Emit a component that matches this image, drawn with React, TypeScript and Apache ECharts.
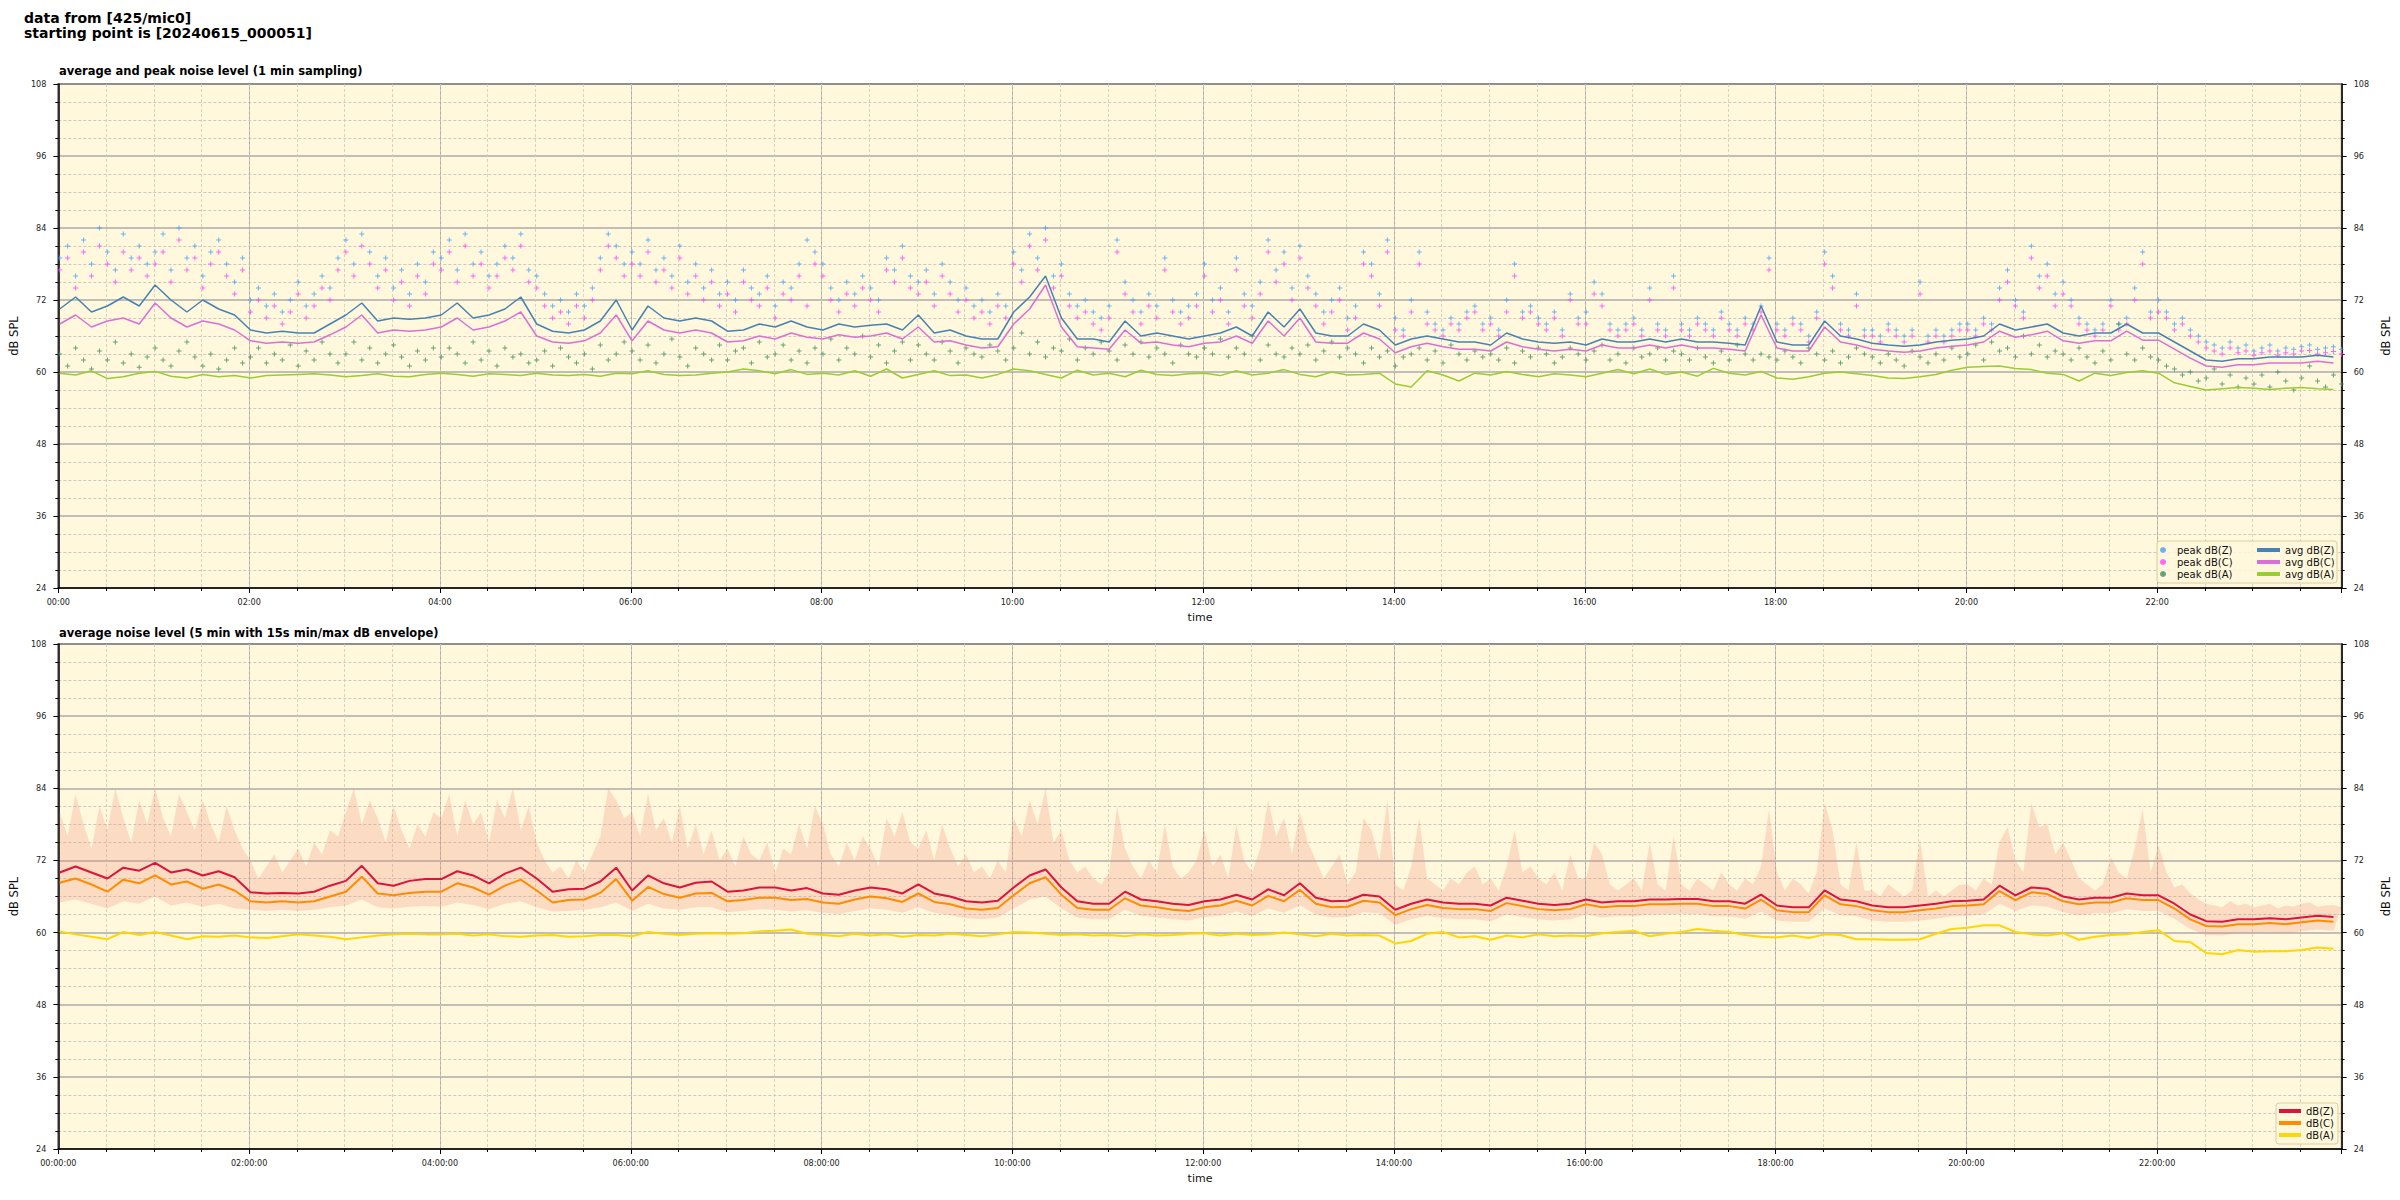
import React, { useEffect, useRef } from 'react';
import * as echarts from 'echarts';

// ---------- time base (minutes after 00:00; recording starts 00:00:51) ----------
const START_MIN = 0.85;
const AVG_STEP = 10; // avg / envelope-min samples every 10 min
const PEAK_STEP = 5; // peak / envelope-max samples every 5 min
const X_MAX = 1436;
const X_LABELS_TOP = ['00:00', '02:00', '04:00', '06:00', '08:00', '10:00', '12:00', '14:00', '16:00', '18:00', '20:00', '22:00'];
const X_LABELS_BOTTOM = ['00:00:00', '02:00:00', '04:00:00', '06:00:00', '08:00:00', '10:00:00', '12:00:00', '14:00:00', '16:00:00', '18:00:00', '20:00:00', '22:00:00'];

// ---------- top chart: peaks (5 min) ----------
const PEAK_Z = [
  79, 81, 76, 82, 78, 84, 80, 77, 83, 79, 81, 78,
  80, 83, 77, 84, 79, 81, 76, 80, 82, 78, 75, 79,
  72, 74, 71, 73, 70, 72, 75, 71, 73, 76, 74, 79,
  82, 78, 83, 80, 76, 79, 74, 77, 73, 78, 75, 80,
  79, 82, 77, 83, 78, 80, 76, 78, 81, 79, 83, 77,
  76, 73, 71, 72, 70, 73, 71, 74, 79, 83, 81, 78,
  80, 78, 82, 77, 79, 76, 81, 75, 78, 74, 77, 73,
  75, 72, 77, 74, 73, 76, 71, 75, 74, 78, 82, 80,
  78, 74, 72, 75, 73, 76, 74, 72, 79, 77, 81, 76,
  75, 77, 73, 78, 75, 72, 74, 71, 72, 70, 73, 71,
  80, 77, 83, 79, 84, 76, 78, 73, 71, 72, 70, 69,
  71, 82, 75, 72, 70, 73, 71, 79, 72, 70, 71, 73,
  78, 72, 74, 70, 79, 73, 71, 75, 82, 77, 80, 74,
  81, 76, 73, 70, 72, 74, 69, 71, 80, 78, 73, 82,
  69, 67, 72, 80, 70, 68, 67, 69, 68, 70, 71, 68,
  69, 67, 72, 78, 70, 71, 69, 68, 70, 67, 73, 69,
  70, 75, 73, 68, 67, 68, 69, 67, 74, 68, 67, 76,
  68, 67, 69, 68, 67, 70, 68, 67, 69, 68, 71, 79,
  68, 67, 69, 68, 66, 70, 80, 76, 68, 67, 73, 67,
  67, 66, 68, 67, 66, 67, 75, 66, 67, 66, 67, 68,
  68, 67, 69, 68, 74, 77, 72, 70, 81, 76, 78, 73,
  75, 72, 69, 68, 67, 68, 72, 68, 69, 74, 80, 70,
  72, 70, 68, 69, 67, 66, 65, 64.5, 64, 65, 64, 64.5,
  63.5, 64, 64.5, 63.5, 64, 63.8, 64.2, 64.5, 63.8, 64, 64.2, 63.8,
];
const PEAK_C = [
  77, 79, 74, 80, 76, 81, 78, 75, 80, 77, 79, 76,
  78, 80, 75, 82, 77, 79, 74, 78, 80, 76, 73, 77,
  70, 72, 69, 71, 68, 70, 73, 69, 71, 74, 72, 77,
  80, 76, 81, 78, 74, 77, 72, 75, 71, 76, 73, 78,
  77, 80, 75, 81, 76, 78, 74, 76, 79, 77, 81, 75,
  74, 71, 69, 70, 68, 71, 69, 72, 77, 81, 79, 76,
  78, 76, 80, 75, 77, 74, 79, 73, 76, 72, 75, 71,
  73, 70, 75, 72, 71, 74, 69, 73, 72, 76, 71, 78,
  76, 72, 70, 73, 71, 74, 72, 70, 77, 75, 79, 74,
  73, 75, 71, 76, 73, 70, 72, 69, 70, 68, 71, 69,
  78, 75, 81, 77, 82, 74, 76, 71, 69, 70, 68, 67,
  69, 80, 73, 70, 68, 71, 69, 77, 70, 68, 69, 71,
  76, 70, 72, 68, 77, 71, 69, 73, 80, 75, 78, 72,
  79, 74, 71, 68, 70, 72, 67, 69, 78, 76, 71, 80,
  67, 66, 70, 78, 68, 67, 66, 68, 67, 69, 70, 67,
  68, 66, 70, 76, 69, 70, 68, 67, 69, 66, 72, 68,
  68, 73, 71, 67, 66, 67, 68, 66, 72, 67, 66, 74,
  67, 66, 68, 67, 66, 69, 67, 66, 68, 67, 70, 77,
  67, 66, 68, 67, 65, 69, 78, 74, 67, 66, 71, 66,
  66, 65, 67, 66, 65, 66, 73, 65, 66, 65, 66, 67,
  67, 66, 68, 67, 72, 75, 71, 69, 79, 74, 76, 71,
  73, 71, 68, 67, 66, 67, 71, 67, 68, 72, 78, 69,
  70, 69, 67, 68, 66, 65, 64, 63.5, 63, 64, 63.2, 63.5,
  62.8, 63.2, 63.5, 62.8, 63.2, 63, 63.5, 63.6, 63, 63.2, 63.4, 63,
];
const PEAK_A = [
  63, 61, 64, 62, 60.5, 63.5, 62, 65, 61.5, 63, 60.8, 62.5,
  64, 62, 61, 63.5, 65, 62.5, 61, 63, 60.5, 62, 64, 61.5,
  62.5, 64, 61.5, 63, 62, 64.5, 61, 63.5, 62, 65, 63, 61.5,
  63, 65, 62, 64, 61.5, 63, 64.5, 62.5, 61, 63.5, 62, 64,
  62.5, 64, 63, 61.5, 65, 62, 63.5, 61, 64, 62.5, 63, 61.5,
  62, 63.5, 61, 64, 62.5, 61.5, 63, 60.5, 64.5, 62, 63, 65,
  63.5, 62, 64.5, 61.5, 63, 65.5, 62.5, 61, 64, 63, 62, 64.5,
  62, 63.5, 64, 61.5, 65, 62.5, 63, 64.5, 62, 63.5, 61.5, 64,
  63, 65.5, 62, 64, 63, 66, 62.5, 64.5, 61.5, 63.5, 65, 62,
  64.5, 63, 62, 65, 63.5, 61.5, 64, 63, 62.5, 64.5, 63.5, 62,
  64, 66.5, 63, 65, 62.5, 64, 63.5, 65.5, 62, 64, 63, 65,
  63.5, 62, 64.5, 63, 65, 62.5, 64, 63, 61.5, 64.5, 63, 62.5,
  64, 63, 65.5, 62.5, 64, 63, 66, 62, 64.5, 63, 62.5, 64,
  63, 64.5, 62, 63.5, 65, 62.5, 64, 63, 61.5, 64, 62.5, 63.5,
  61, 62.5, 63, 64, 62, 63.5, 61.5, 64.5, 63, 62, 63.5, 62.5,
  63, 62, 64, 61.5, 63.5, 62.5, 64, 63, 61.5, 62.5, 64, 63,
  62, 63.5, 64.5, 62, 63, 61.5, 64, 62.5, 63, 64, 62, 63.5,
  63, 62, 64, 62.5, 61.5, 63.5, 62, 64.5, 63, 62, 63, 62.5,
  62, 63.5, 62.5, 61.5, 64, 63, 62, 63.5, 61.5, 62.5, 64, 63,
  62.5, 61.5, 63, 62, 61, 63.5, 62.5, 61.5, 63, 62, 64, 62.5,
  63, 64.5, 62, 65, 63.5, 64, 62.5, 66, 63, 64.5, 62.5, 63.5,
  63, 62, 64, 62.5, 61.5, 63.5, 62, 68, 63, 62, 64, 62.5,
  62, 61, 60.5, 59.5, 60, 58.5, 59, 60.5, 58, 59.5, 57.5, 59,
  58, 59.5, 57.5, 60, 58.5, 57, 59, 61, 58.5, 57.5, 59.5, 58,
];

// ---------- top chart: 1-min averages (read every 10 min) ----------
const AVG_Z = [
  70.5, 72.5, 70, 71, 72.5, 71, 74.5, 72, 70, 72, 70.5, 69.5,
  67, 66.5, 66.8, 66.5, 66.5, 68, 69.5, 71.5, 68.5, 69, 68.8, 69,
  69.5, 71.5, 69, 69.5, 70.5, 72.5, 68, 66.8, 66.5, 67, 68.5, 72,
  67, 71, 69, 68.5, 69, 68.5, 66.8, 67, 68, 67.5, 68.5, 67.5,
  67, 68, 67.5, 67.8, 68, 67, 69.5, 66.5, 67, 66, 65.5, 65.5,
  70, 72.5, 76, 69, 65.5, 65.5, 65, 68.5, 66, 66.5, 66, 65.5,
  66, 66.5, 67.5, 66, 70, 67.5, 70.5, 66.5, 66, 66, 68, 67,
  64.5, 65.5, 66, 65.5, 65, 65, 64.5, 66.5, 65.5, 65, 64.8, 65,
  64.5, 65.5, 65, 65, 65.5, 65, 65.5, 65, 65, 64.8, 64.5, 71,
  65, 64.5, 64.5, 68.5, 66, 65.5, 64.8, 64.5, 64.3, 64.5, 65, 65.3,
  65.5, 66, 68, 67, 67.5, 68, 66.5, 66, 66.5, 66.5, 68, 66.5,
  66.5, 65, 63.5, 62, 61.8, 62.2, 62.2, 62.5, 62.5, 62.5, 62.8, 62.5,
];
const AVG_C = [
  68, 69.5, 67.5, 68.5, 69, 68, 71.5, 69, 67.5, 68.5, 68, 67,
  65.2, 64.8, 65, 64.8, 65, 66.2, 67.5, 69.5, 66.5, 67, 66.8, 67,
  67.5, 69, 67, 67.5, 68.5, 70, 66, 65, 64.8, 65.2, 66.5, 69.5,
  65.2, 68.5, 67, 66.5, 67, 66.5, 65, 65.2, 66, 65.5, 66.5, 65.8,
  65.5, 66.2, 65.8, 66, 66.5, 65.5, 67.5, 65, 65.2, 64.5, 64, 64.2,
  68, 70.5, 74.5, 67.5, 64.2, 64, 63.8, 67, 64.8, 65, 64.5, 64.2,
  64.8, 65, 66, 64.8, 68.5, 66, 69, 65, 64.8, 64.8, 66.5, 65.5,
  63.2, 64.2, 64.8, 64.2, 63.8, 63.8, 63.5, 65, 64.2, 63.8, 63.5, 63.8,
  63.5, 64.5, 64, 64, 64.5, 64, 64.5, 64, 64, 63.8, 63.5, 69.5,
  64, 63.5, 63.5, 67.5, 65, 64.5, 63.8, 63.5, 63.3, 63.5, 64, 64.3,
  64.5, 65, 66.8, 65.8, 66.2, 66.8, 65.2, 64.8, 65.2, 65.2, 66.8, 65.3,
  65.3, 63.8, 62.3, 61, 60.8, 61.2, 61.2, 61.5, 61.5, 61.5, 61.8, 61.5,
];
const AVG_A = [
  59.8, 59.5, 60.2, 58.9, 59.2, 59.8, 60.1, 59.3, 59, 59.6, 59.2, 59.4,
  59, 59.4, 59.5, 59.6, 59.7, 59.5, 59.2, 59.4, 59.7, 59.3, 59.2, 59.6,
  59.8, 59.6, 59.3, 59.7, 59.6, 59.4, 59.8, 59.5, 59.4, 59.6, 59.3, 59.8,
  59.7, 60.2, 59.6, 59.4, 59.5, 59.8, 60, 60.5, 60.2, 59.7, 60.4, 59.6,
  59.8, 59.5, 60.2, 59.3, 60.5, 59, 59.6, 60.2, 59.4, 59.5, 59, 59.6,
  60.5, 60.2, 59.6, 59, 60.3, 59.5, 59.8, 59.2, 60.3, 59.6, 59.4, 59.7,
  59.8, 59.4, 60.2, 59.5, 59.8, 60.4, 59.6, 59.2, 60, 59.5, 59.6, 59.8,
  58, 57.5, 60.2, 59.5, 58.5, 59.8, 59.5, 60.1, 59.6, 59.2, 59.7, 59.5,
  59.2, 59.8, 60.4, 59.7, 60.5, 59.6, 60, 59.3, 60.6, 59.8, 59.5, 60.1,
  59, 58.8, 59.2, 59.8, 60, 59.7, 59.4, 59, 58.9, 59.2, 59.6, 60.3,
  60.8, 60.9, 61, 60.6, 60.4, 59.8, 59.6, 58.5, 59.8, 59.4, 59.9, 60.2,
  59.8, 58.2, 57.6, 57, 57.2, 57.4, 57.3, 57.1, 57.3, 57.4, 57.2, 57.1,
];

// ---------- bottom chart: 5-min averages (read every 10 min) ----------
const B_Z = [
  70, 71, 70, 69, 70.8, 70.3, 71.6, 70, 70.5, 69.5, 70.2, 69.2,
  66.7, 66.5, 66.6, 66.5, 66.8, 67.8, 68.6, 71.1, 68.2, 67.8, 68.6, 68.9,
  68.9, 70.2, 69.5, 68.2, 69.8, 70.8, 69, 66.8, 67.2, 67.3, 68.5, 70.8,
  67, 69.5, 68.2, 67.5, 68.3, 68.5, 66.8, 67, 67.5, 67.5, 67, 67.4,
  66.5, 66.3, 67, 67.5, 67.2, 66.5, 68, 66.5, 66, 65.2, 65, 65.3,
  67.5, 69.5, 70.5, 67.5, 65.2, 64.8, 64.8, 66.8, 65.5, 65.2, 64.8, 64.6,
  65.2, 65.5, 66.3, 65.5, 67.2, 66.2, 68.2, 65.8, 65.2, 65.3, 66.3, 66,
  63.8, 64.8, 65.5, 65, 64.8, 64.8, 64.5, 65.8, 65.3, 64.8, 64.6, 64.8,
  65.5, 65, 65.2, 65.2, 65.5, 65.5, 65.6, 65.6, 65.2, 65.2, 64.8, 66.3,
  64.5, 64.2, 64.2, 67, 65.5, 65.2, 64.5, 64.2, 64.2, 64.5, 64.8, 65.2,
  65.3, 65.5, 67.8, 66.2, 67.5, 67.3, 66, 65.5, 65.8, 65.8, 66.5, 66.2,
  66.2, 64.8, 63, 61.9, 61.8, 62.2, 62.2, 62.4, 62.2, 62.5, 62.8, 62.6,
];
const B_C = [
  68.3, 69, 68, 66.8, 68.8, 68.2, 69.5, 68, 68.5, 67.3, 68, 67,
  65.2, 65, 65.2, 65, 65.2, 66, 66.8, 69.3, 66.5, 66.2, 66.6, 66.8,
  66.8, 68.2, 67.5, 66.3, 67.8, 68.8, 67, 65, 65.4, 65.5, 66.6, 68.9,
  65.3, 67.6, 66.4, 65.8, 66.5, 66.6, 65.2, 65.4, 65.8, 65.8, 65.4, 65.6,
  65, 64.8, 65.5, 66, 65.7, 65.1, 66.5, 65.1, 64.7, 64, 63.8, 64.1,
  66.2, 68.2, 69.2, 66.3, 64.1, 63.8, 63.8, 65.7, 64.5, 64.2, 63.8, 63.6,
  64.2, 64.5, 65.3, 64.5, 66.1, 65.2, 67.1, 64.8, 64.2, 64.3, 65.3, 65,
  62.9, 63.9, 64.6, 64.1, 63.9, 63.9, 63.6, 64.9, 64.4, 63.9, 63.7, 63.9,
  64.7, 64.2, 64.4, 64.4, 64.7, 64.7, 64.8, 64.8, 64.4, 64.4, 64, 65.5,
  63.7, 63.4, 63.4, 66.2, 64.7, 64.4, 63.7, 63.4, 63.4, 63.7, 64, 64.4,
  64.5, 64.7, 66.9, 65.4, 66.7, 66.4, 65.2, 64.7, 65, 65, 65.7, 65.4,
  65.4, 64, 62.2, 61.1, 61, 61.4, 61.4, 61.6, 61.4, 61.7, 62, 61.8,
];
const B_A = [
  60.2, 59.7, 59.3, 58.9, 60.1, 59.6, 60.1, 59.5, 58.9, 59.4, 59.3, 59.5,
  59.2, 59.1, 59.4, 59.7, 59.5, 59.3, 58.9, 59.2, 59.5, 59.7, 59.8, 59.7,
  59.7, 59.8, 59.5, 59.7, 59.4, 59.3, 59.5, 59.6, 59.3, 59.4, 59.6, 59.6,
  59.4, 60.1, 59.8, 59.6, 59.8, 59.9, 59.8, 59.9, 60.2, 60.3, 60.5, 59.8,
  59.6, 59.4, 59.8, 59.5, 59.7, 59.3, 59.6, 59.5, 59.8, 59.6, 59.4, 59.7,
  60.1, 60, 59.8, 59.6, 59.7, 59.5, 59.6, 59.4, 59.7, 59.5, 59.6, 59.8,
  59.9, 59.5, 59.8, 59.6, 59.7, 60, 59.7, 59.4, 59.8, 59.5, 59.6, 59.5,
  58.2, 58.6, 59.8, 60.1, 59.2, 59.4, 58.8, 59.5, 59.2, 59.7, 59.4, 59.5,
  59.4, 59.9, 60.1, 60.3, 59.4, 59.8, 60.1, 60.6, 60.3, 60.1, 59.6, 59.3,
  59.2, 59.5, 59.1, 59.7, 59.6, 58.9, 58.9, 58.8, 58.8, 58.9, 59.8, 60.6,
  60.8, 61.2, 61.2, 60.1, 59.7, 59.5, 59.9, 58.8, 59.3, 59.6, 59.7, 60.1,
  60.4, 58.6, 58.4, 56.6, 56.4, 57.1, 56.8, 56.9, 56.9, 57.1, 57.5, 57.3,
];
// 15 s min / max envelope
const ENV_MIN = [
  65, 65.5, 64.8, 64, 65.2, 64.8, 66, 64.5, 65, 64.3, 64.8, 64,
  63.8, 63.6, 63.8, 63.6, 63.8, 64.2, 64.5, 65.5, 64.2, 64, 64.3, 64.4,
  64.3, 65, 64.6, 63.9, 64.8, 65.2, 64.2, 63.5, 63.6, 63.8, 64.2, 65,
  63.6, 64.8, 64, 63.8, 64.2, 64.2, 63.4, 63.6, 63.9, 63.8, 63.5, 63.7,
  63.3, 63.1, 63.6, 64, 63.8, 63.3, 64.2, 63.3, 62.9, 62.4, 62.2, 62.5,
  64, 65.5, 66, 64, 62.5, 62.2, 62.2, 63.8, 62.8, 62.5, 62.2, 62,
  62.6, 62.8, 63.5, 62.8, 64, 63.3, 64.5, 63, 62.5, 62.6, 63.4, 63.2,
  61.3, 62.2, 62.8, 62.4, 62.2, 62.2, 61.9, 63, 62.6, 62.2, 62, 62.2,
  63, 62.5, 62.7, 62.7, 63, 63, 63.1, 63.1, 62.7, 62.7, 62.3, 63.5,
  62, 61.8, 61.8, 64, 62.9, 62.7, 62, 61.8, 61.8, 62, 62.3, 62.7,
  62.8, 63, 64.8, 63.6, 64.5, 64.3, 63.4, 62.9, 63.2, 63.2, 63.9, 63.6,
  63.6, 62.3, 60.6, 59.6, 59.5, 59.9, 59.9, 60.1, 59.9, 60.2, 60.5, 60.3,
];
const ENV_MAX = [
  80, 76, 83, 78, 74, 81, 77, 84, 79, 75, 82, 78,
  84, 79, 76, 83, 80, 77, 82, 78, 75, 81, 77, 74,
  72, 69, 71, 73, 70, 72, 74, 71, 75, 73, 77, 76,
  80, 84, 78, 82, 79, 75, 81, 77, 74, 78, 76, 80,
  79, 83, 76, 82, 78, 80, 75, 82, 79, 84, 77, 81,
  75, 72, 70, 71, 69, 72, 70, 73, 76, 84, 82, 79,
  80, 76, 83, 77, 79, 75, 81, 74, 78, 73, 77, 72,
  74, 71, 76, 73, 72, 75, 70, 74, 73, 78, 74, 81,
  78, 73, 71, 75, 72, 76, 74, 71, 79, 76, 80, 75,
  74, 77, 72, 78, 74, 71, 73, 70, 71, 69, 72, 70,
  79, 76, 82, 78, 84, 75, 77, 72, 70, 71, 69, 68,
  70, 81, 74, 71, 69, 72, 70, 78, 71, 69, 70, 72,
  77, 71, 73, 69, 78, 72, 70, 74, 82, 76, 79, 73,
  80, 75, 72, 69, 71, 73, 68, 70, 79, 77, 72, 82,
  68, 67, 71, 79, 69, 68, 67, 69, 68, 70, 71, 68,
  69, 67, 71, 77, 70, 71, 69, 68, 70, 67, 73, 69,
  69, 75, 73, 68, 67, 68, 69, 67, 75, 68, 67, 76,
  68, 67, 69, 68, 67, 70, 68, 67, 69, 68, 71, 80.5,
  70, 67, 69, 68, 66.5, 70, 81.5, 77, 68, 67, 75, 67,
  67, 66, 68, 67, 66, 67, 75.5, 66, 67, 66, 67, 68,
  68, 67, 69, 68, 75, 77.5, 72, 70, 81.5, 77.5, 78, 73,
  75, 72, 69, 68, 67, 68, 72.5, 70, 69, 74, 80.5, 70,
  74.5, 70, 67.5, 68, 66.5, 65.5, 64.8, 64.5, 64.2, 65.2, 64.5, 64.8,
  64.2, 64.5, 64.8, 64, 64.5, 64.3, 64.8, 65, 64.3, 64.5, 64.6, 64.2,
];

// ---------- styling helpers ----------
const FONT = "'DejaVu Sans', sans-serif";
const TICK_FONT = "'DejaVu Sans Condensed', 'Liberation Sans Narrow', 'DejaVu Sans', sans-serif";
const PLUS = 'path://M4,0H6V4H10V6H6V10H4V6H0V4H4Z';

const tAvg = (i: number) => START_MIN + i * AVG_STEP;
const tPeak = (i: number) => START_MIN + i * PEAK_STEP;
const avgPts = (arr: number[]) => arr.map((v, i) => [tAvg(i), v]);
const peakPts = (arr: number[]) => arr.map((v, i) => [tPeak(i), v]);

const majorX = (gridIndex: number, labels: string[]) => ({
  type: 'value', gridIndex, min: 0, max: X_MAX, interval: 120, position: 'bottom',
  name: 'time', nameLocation: 'middle', nameGap: 24,
  nameTextStyle: { fontSize: 11, color: '#111', fontFamily: FONT },
  axisLine: { show: true, onZero: false, lineStyle: { color: '#000', width: 1.5 } },
  axisTick: { show: true, length: 5, lineStyle: { color: '#000', width: 1 } },
  axisLabel: {
    show: true, margin: 9, fontSize: 9, color: '#222', fontFamily: TICK_FONT,
    formatter: (v: number) => (v % 120 === 0 && labels[v / 120] !== undefined ? labels[v / 120] : ''),
  },
  splitLine: { show: true, lineStyle: { color: '#ababab', width: 1 } },
});
const minorX = (gridIndex: number) => ({
  type: 'value', gridIndex, min: 0, max: X_MAX, interval: 30, position: 'bottom',
  axisLine: { show: false, onZero: false },
  axisTick: { show: true, length: 3, lineStyle: { color: '#000', width: 1 } },
  axisLabel: { show: false },
  splitLine: { show: true, lineStyle: { color: '#cfc8b4', type: [3, 2], width: 0.8 } },
});
const yAx = (gridIndex: number, pos: 'left' | 'right') => ({
  type: 'value', gridIndex, position: pos, min: 24, max: 108, interval: 12,
  name: 'dB SPL', nameLocation: 'middle', nameGap: pos === 'left' ? 33 : 31, nameRotate: 90,
  nameTextStyle: { fontSize: 11.5, color: '#111', fontFamily: FONT },
  axisLine: { show: true, onZero: false, lineStyle: { color: '#000', width: 1.5 } },
  axisTick: { show: true, length: 5, lineStyle: { color: '#000', width: 1 } },
  minorTick: { show: true, splitNumber: 4, length: 3, lineStyle: { color: '#000', width: 1 } },
  axisLabel: { margin: 12, fontSize: 9, color: '#222', fontFamily: TICK_FONT },
  splitLine: { show: pos === 'left', lineStyle: { color: '#ababab', width: 1.5 } },
  minorSplitLine: { show: pos === 'left', lineStyle: { color: '#bdbdbd', type: [3, 2], width: 0.8 } },
});

const legendText = { fontSize: 10, color: '#111', fontFamily: FONT, lineHeight: 12 };

export default function App() {
  const ref = useRef<HTMLDivElement>(null);
  useEffect(() => {
    if (!ref.current) return;
    const chart = echarts.init(ref.current, undefined, { renderer: 'svg' });
    const option: any = {
      animation: false,
      backgroundColor: '#ffffff',
      title: [
        {
          text: 'data from [425/mic0]\nstarting point is [20240615_000051]',
          left: 24, top: 10, padding: 0,
          textStyle: { fontSize: 14, fontWeight: 'bold', lineHeight: 15, color: '#000', fontFamily: FONT },
        },
        {
          text: 'average and peak noise level (1 min sampling)', left: 59, top: 64, padding: 0,
          textStyle: { fontSize: 11.5, fontWeight: 'bold', lineHeight: 14, color: '#000', fontFamily: FONT },
        },
        {
          text: 'average noise level (5 min with 15s min/max dB envelope)', left: 59, top: 626, padding: 0,
          textStyle: { fontSize: 11.5, fontWeight: 'bold', lineHeight: 14, color: '#000', fontFamily: FONT },
        },
      ],
      grid: [
        { left: 58, top: 84, width: 2285, height: 504, show: true, backgroundColor: '#fff8dc', borderColor: '#000', borderWidth: 1.5 },
        { left: 58, top: 644, width: 2285, height: 505, show: true, backgroundColor: '#fff8dc', borderColor: '#000', borderWidth: 1.5 },
      ],
      xAxis: [majorX(0, X_LABELS_TOP), minorX(0), majorX(1, X_LABELS_BOTTOM), minorX(1)],
      yAxis: [yAx(0, 'left'), yAx(0, 'right'), yAx(1, 'left'), yAx(1, 'right')],
      legend: [
        {
          orient: 'vertical', left: 2160, top: 544, padding: 0, itemGap: 0, z: 5,
          itemWidth: 18, itemHeight: 6, icon: 'circle', selectedMode: false, textStyle: legendText,
          data: ['peak dB(Z)', 'peak dB(C)', 'peak dB(A)'],
        },
        {
          orient: 'vertical', left: 2257, top: 544, padding: 0, itemGap: 0, z: 5,
          itemWidth: 23, itemHeight: 4, icon: 'rect', selectedMode: false, textStyle: legendText,
          data: ['avg dB(Z)', 'avg dB(C)', 'avg dB(A)'],
        },
        {
          orient: 'vertical', left: 2279, top: 1105, padding: 0, itemGap: 0, z: 5,
          itemWidth: 22, itemHeight: 4, icon: 'rect', selectedMode: false, textStyle: legendText,
          data: ['dB(Z)', 'dB(C)', 'dB(A)'],
        },
      ],
      graphic: [
        { type: 'rect', z: 3, shape: { x: 2157, y: 541, width: 180, height: 42, r: 3 }, style: { fill: 'rgba(255,248,220,0.85)', stroke: '#e2cc9c', lineWidth: 1 } },
        { type: 'rect', z: 3, shape: { x: 2276, y: 1103, width: 62, height: 41, r: 3 }, style: { fill: 'rgba(255,248,220,0.85)', stroke: '#e2cc9c', lineWidth: 1 } },
      ],
      series: [
        // top: peaks
        { type: 'scatter', name: 'peak dB(Z)', xAxisIndex: 0, yAxisIndex: 0, data: peakPts(PEAK_Z), symbol: PLUS, symbolSize: 5, itemStyle: { color: '#46a0fa' }, silent: true },
        { type: 'scatter', name: 'peak dB(C)', xAxisIndex: 0, yAxisIndex: 0, data: peakPts(PEAK_C), symbol: PLUS, symbolSize: 5, itemStyle: { color: '#ff40ff' }, silent: true },
        { type: 'scatter', name: 'peak dB(A)', xAxisIndex: 0, yAxisIndex: 0, data: peakPts(PEAK_A), symbol: PLUS, symbolSize: 5, itemStyle: { color: '#3e8e5e' }, silent: true },
        // top: averages
        { type: 'line', name: 'avg dB(A)', xAxisIndex: 0, yAxisIndex: 0, data: avgPts(AVG_A), showSymbol: false, lineStyle: { color: '#9acd32', width: 1.5 }, itemStyle: { color: '#9acd32' }, silent: true },
        { type: 'line', name: 'avg dB(C)', xAxisIndex: 0, yAxisIndex: 0, data: avgPts(AVG_C), showSymbol: false, lineStyle: { color: '#da70d6', width: 1.5 }, itemStyle: { color: '#da70d6' }, silent: true },
        { type: 'line', name: 'avg dB(Z)', xAxisIndex: 0, yAxisIndex: 0, data: avgPts(AVG_Z), showSymbol: false, lineStyle: { color: '#4682b4', width: 1.5 }, itemStyle: { color: '#4682b4' }, silent: true },
        // bottom: envelope
        {
          type: 'custom', name: 'envelope', xAxisIndex: 2, yAxisIndex: 2, data: [[0, 60]], silent: true, z: 1,
          renderItem: (_p: any, api: any) => {
            const pts: number[][] = [];
            ENV_MAX.forEach((v, i) => pts.push(api.coord([tPeak(i), v])));
            for (let i = ENV_MIN.length - 1; i >= 0; i--) pts.push(api.coord([tAvg(i), ENV_MIN[i]]));
            return { type: 'polygon', shape: { points: pts }, style: { fill: 'rgba(238,140,125,0.26)' } };
          },
        },
        { type: 'line', name: 'dB(A)', xAxisIndex: 2, yAxisIndex: 2, data: avgPts(B_A), showSymbol: false, lineStyle: { color: '#ffd700', width: 2 }, itemStyle: { color: '#ffd700' }, silent: true },
        { type: 'line', name: 'dB(C)', xAxisIndex: 2, yAxisIndex: 2, data: avgPts(B_C), showSymbol: false, lineStyle: { color: '#ff8c00', width: 2 }, itemStyle: { color: '#ff8c00' }, silent: true },
        { type: 'line', name: 'dB(Z)', xAxisIndex: 2, yAxisIndex: 2, data: avgPts(B_Z), showSymbol: false, lineStyle: { color: '#dc143c', width: 2 }, itemStyle: { color: '#dc143c' }, silent: true },
      ],
    };
    chart.setOption(option);
    return () => chart.dispose();
  }, []);
  return <div ref={ref} style={{ position: 'fixed', left: 0, top: 0, width: 2400, height: 1200, background: '#fff' }} />;
}
